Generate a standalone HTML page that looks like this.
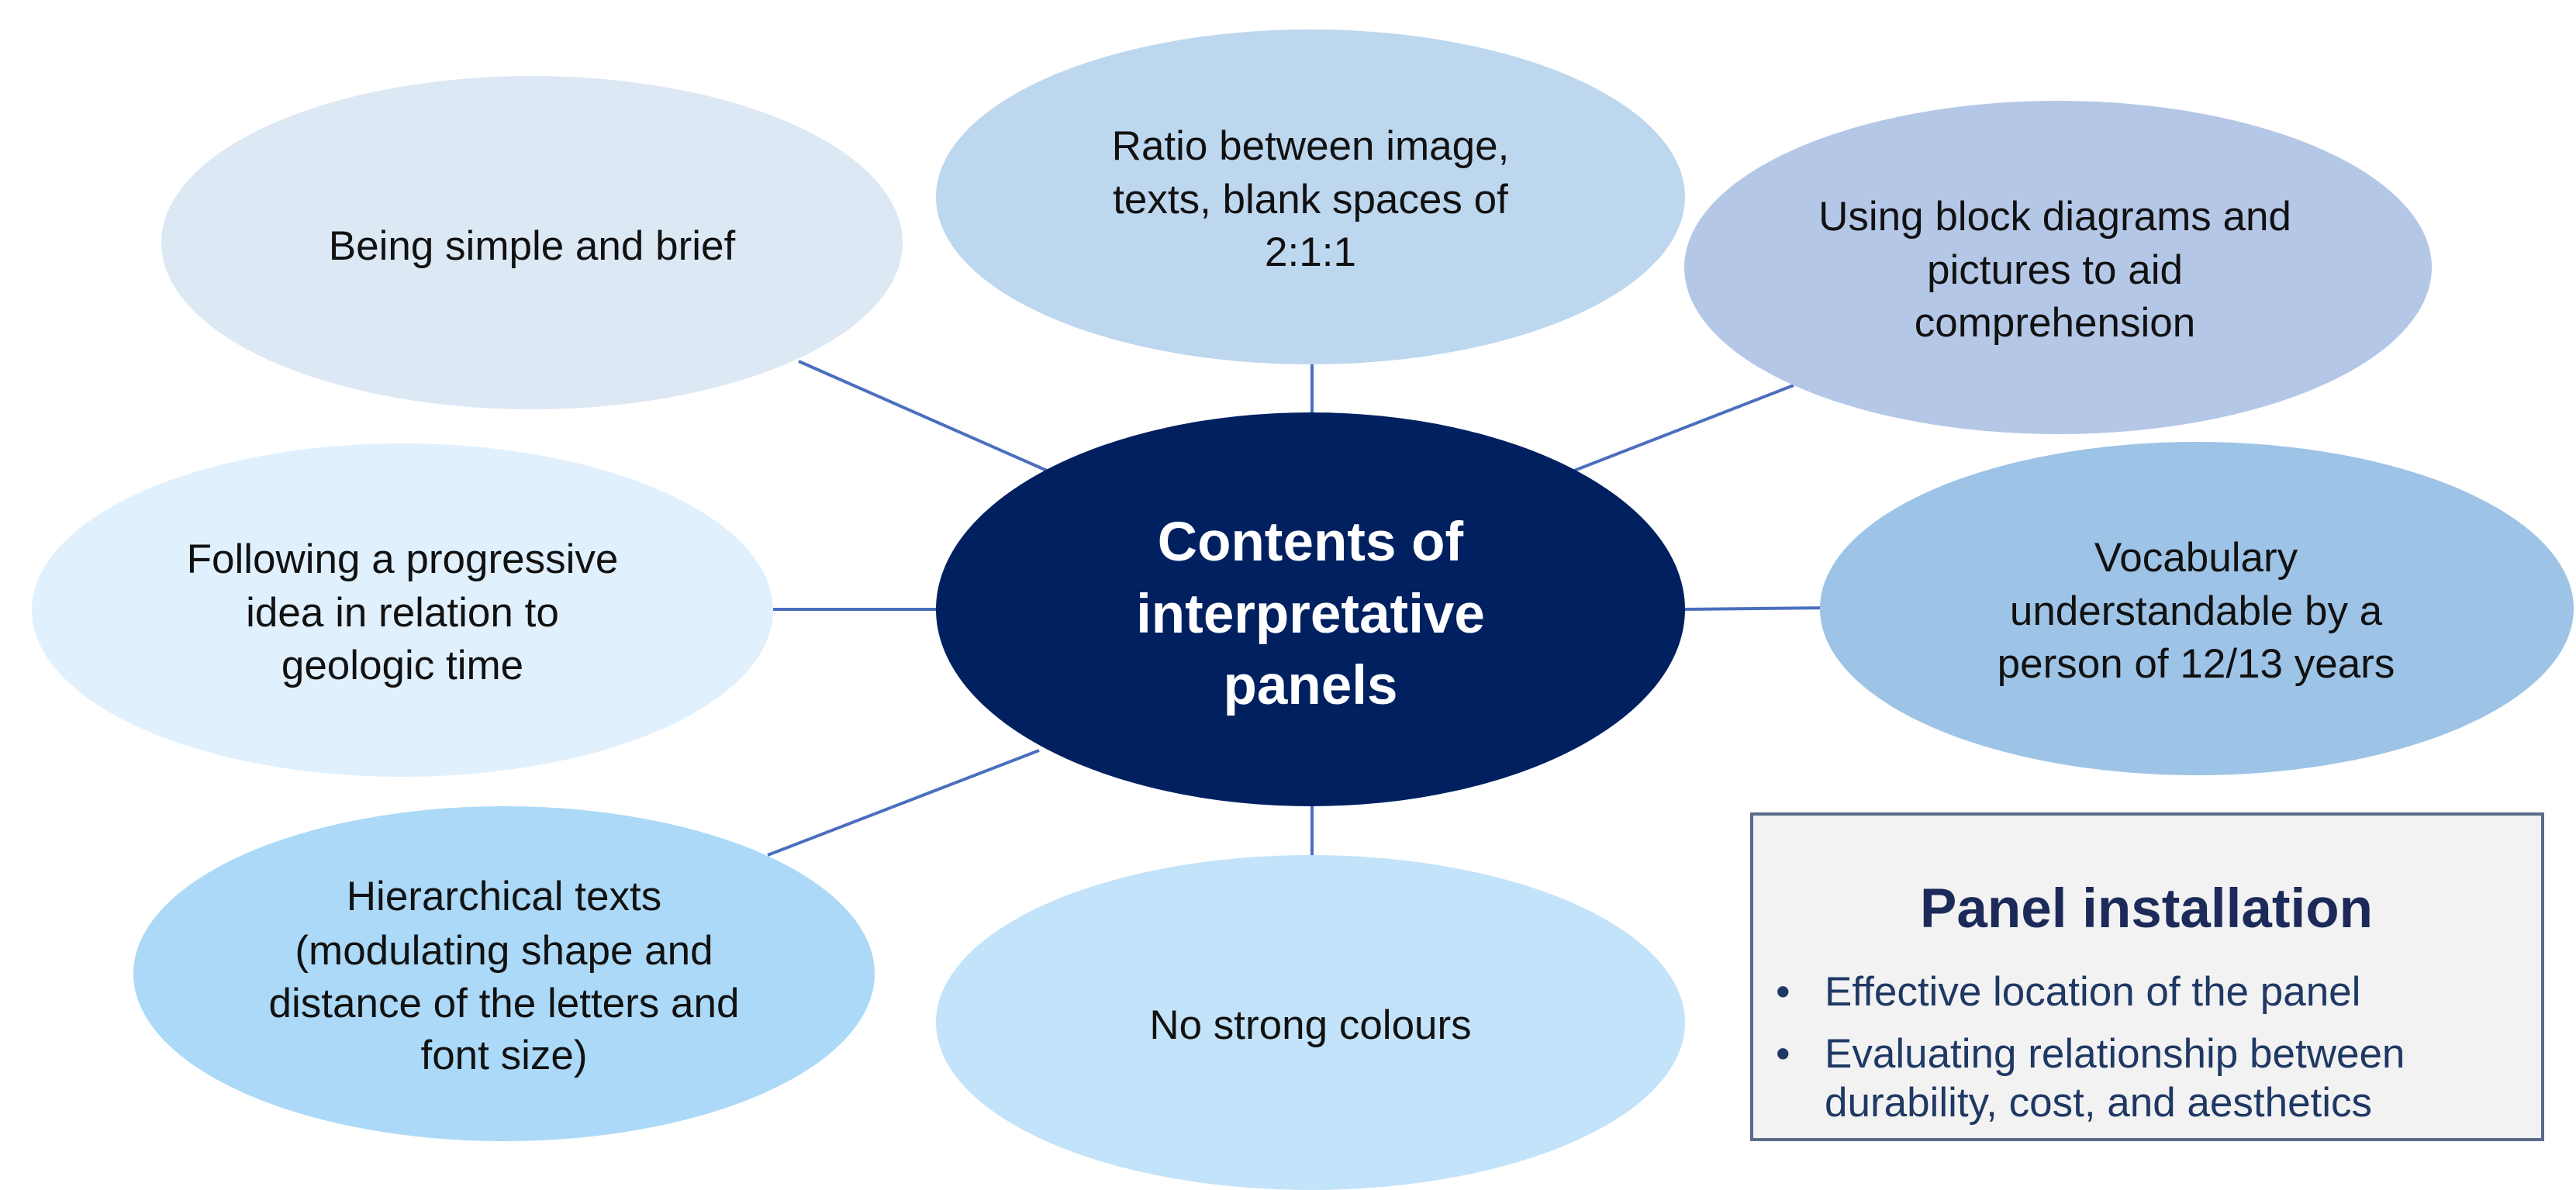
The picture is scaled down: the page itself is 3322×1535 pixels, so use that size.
<!DOCTYPE html>
<html><head><meta charset="utf-8"><style>
html,body{margin:0;padding:0;background:#fff;}
svg{display:block;}
text{font-family:"Liberation Sans",Arial,sans-serif;}
</style></head><body>
<svg width="3322" height="1535" viewBox="0 0 3322 1535" xmlns="http://www.w3.org/2000/svg">
<g stroke="#4a6fbf" stroke-width="4">
<line x1="1030" y1="466" x2="1350" y2="607"/>
<line x1="1692" y1="465" x2="1692" y2="535"/>
<line x1="2313" y1="497" x2="2030" y2="607"/>
<line x1="995" y1="786" x2="1210" y2="786"/>
<line x1="2170" y1="786" x2="2360" y2="784"/>
<line x1="1340" y1="968" x2="990" y2="1103"/>
<line x1="1692" y1="1035" x2="1692" y2="1106"/>
</g>
<ellipse cx="686" cy="313" rx="478" ry="215" fill="#dde8f5"/>
<ellipse cx="1690" cy="254" rx="483" ry="216" fill="#bdd7ee"/>
<ellipse cx="2654" cy="345" rx="482" ry="215" fill="#b4c7e7"/>
<ellipse cx="519" cy="787" rx="478" ry="215" fill="#e1f0fd"/>
<ellipse cx="2833" cy="785" rx="486" ry="215" fill="#9dc3e6"/>
<ellipse cx="650" cy="1256" rx="478" ry="216" fill="#abd9f7"/>
<ellipse cx="1690" cy="1319" rx="483" ry="216" fill="#c2e3f9"/>
<ellipse cx="1690" cy="786" rx="483" ry="254" fill="#002060"/>
<g font-size="53" fill="#111" text-anchor="middle">
<text x="686" y="335">Being simple and brief</text>
<text x="1690" y="206">Ratio between image,</text>
<text x="1690" y="275">texts, blank spaces of</text>
<text x="1690" y="343">2:1:1</text>
<text x="2650" y="297">Using block diagrams and</text>
<text x="2650" y="366">pictures to aid</text>
<text x="2650" y="434">comprehension</text>
<text x="519" y="739">Following a progressive</text>
<text x="519" y="808">idea in relation to</text>
<text x="519" y="876">geologic time</text>
<text x="2832" y="737">Vocabulary</text>
<text x="2832" y="806">understandable by a</text>
<text x="2832" y="874">person of 12/13 years</text>
<text x="650" y="1174">Hierarchical texts</text>
<text x="650" y="1244">(modulating shape and</text>
<text x="650" y="1312">distance of the letters and</text>
<text x="650" y="1379">font size)</text>
<text x="1690" y="1340">No strong colours</text>
</g>
<g font-size="71" font-weight="bold" fill="#fff" text-anchor="middle">
<text x="1690" y="723">Contents of</text>
<text x="1690" y="816">interpretative</text>
<text x="1690" y="908">panels</text>
</g>
<rect x="2259" y="1050" width="1020" height="420" fill="#f2f2f2" stroke="#5a6a8a" stroke-width="4"/>
<text x="2768" y="1196" font-size="71" font-weight="bold" fill="#1c2a5a" text-anchor="middle">Panel installation</text>
<g font-size="53" fill="#1f3864">
<text x="2290" y="1297">•</text>
<text x="2353" y="1297">Effective location of the panel</text>
<text x="2290" y="1377">•</text>
<text x="2353" y="1377">Evaluating relationship between</text>
<text x="2353" y="1440">durability, cost, and aesthetics</text>
</g>
</svg>
</body></html>
